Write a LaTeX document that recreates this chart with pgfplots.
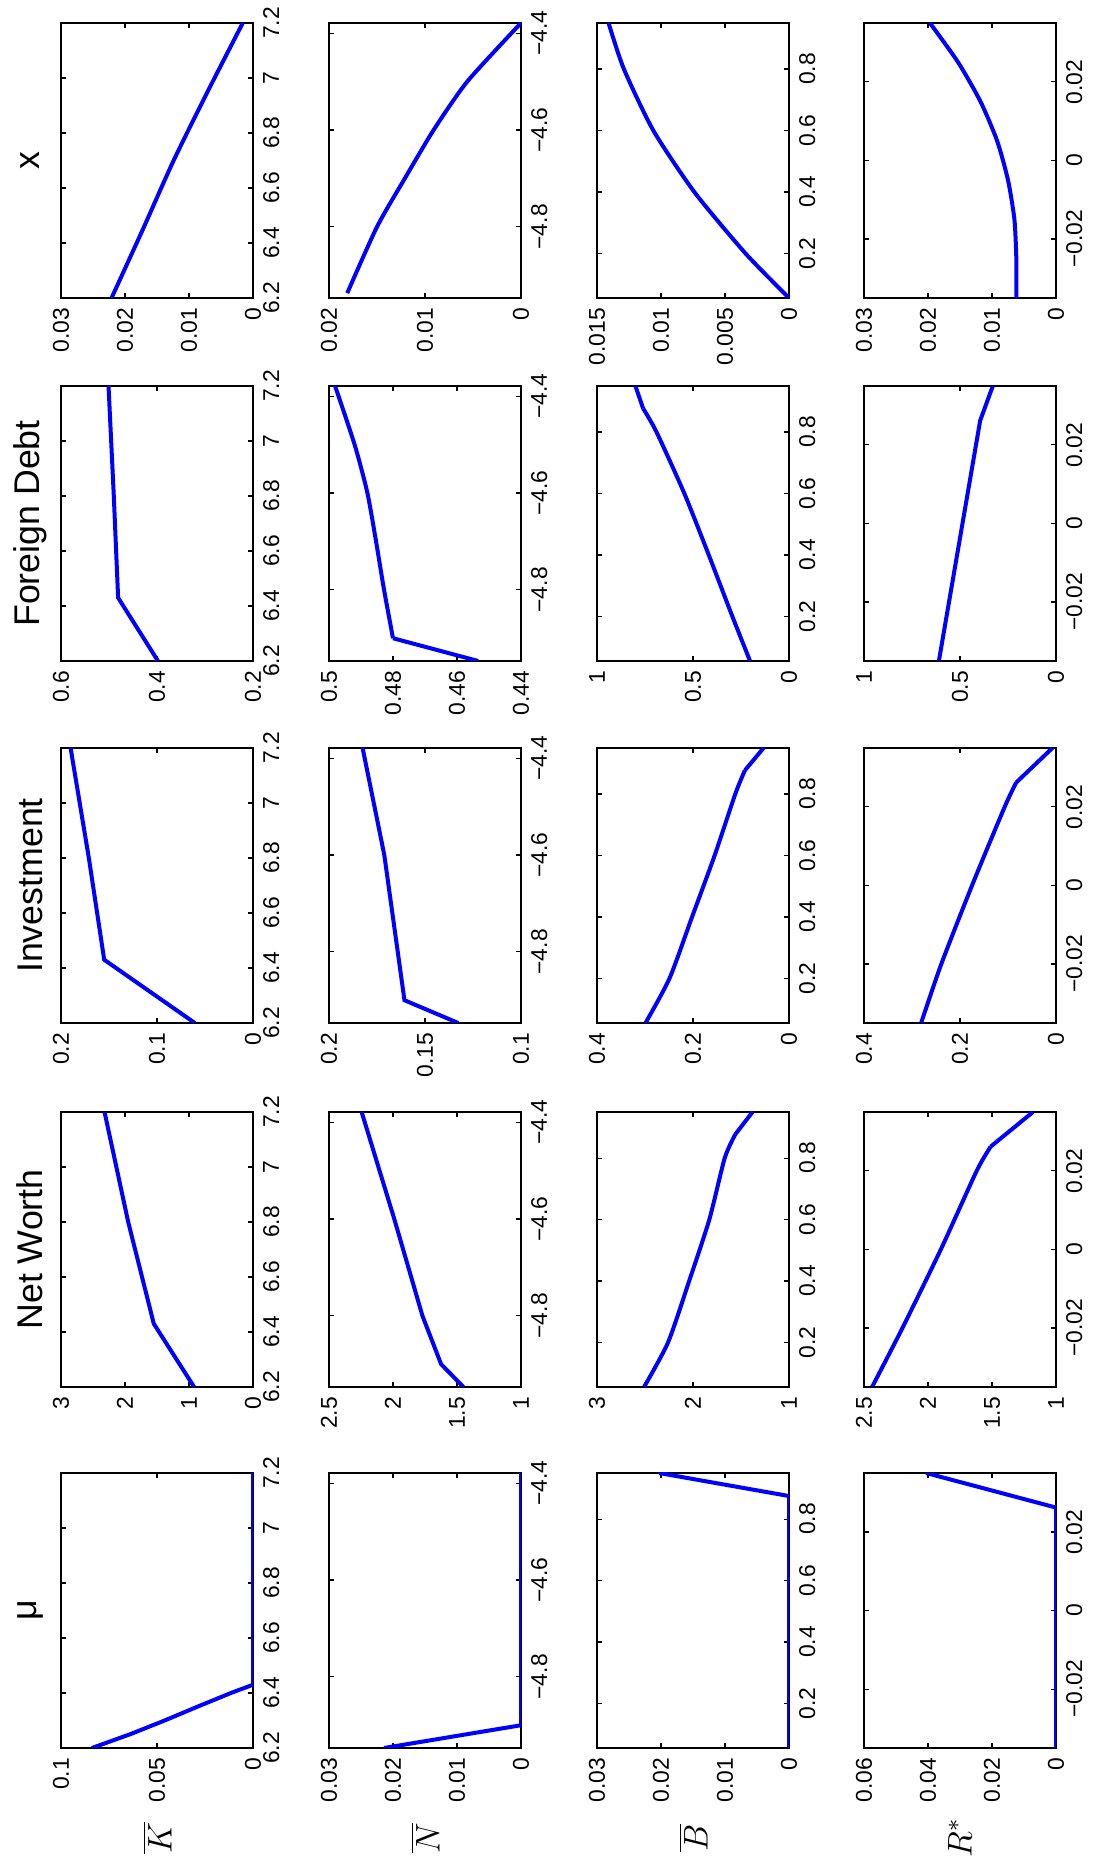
\documentclass[border=0pt]{standalone}
\usepackage{pgfplots}
\pgfplotsset{compat=1.18}
\usepackage{fontspec}
\setmainfont{Liberation Sans}
\pgfplotsset{
  pan/.style={scale only axis, width=96.25pt, height=67.2pt, anchor=north west,
    tick align=inside, major tick length=1.8pt, axis line style={line width=0.5pt},
    tick style={black, line width=0.4pt},
    ticklabel style={font=\fontsize{8}{9}\selectfont},
    scaled ticks=false, cycle list={{blue}},
    every axis plot/.append style={blue, line width=1.4pt, no markers, smooth, tension=0.4},
    xtick pos=both, ytick pos=both, xticklabel pos=lower, yticklabel pos=left},
  pos/.style 2 args={at={({#1*0.35pt},{-#2*0.35pt})}},
  rK/.style={xmin=6.2,xmax=7.2,xtick={6.2,6.4,6.6,6.8,7,7.2},xticklabels={6.2,6.4,6.6,6.8,7,7.2}},
  rN/.style={xmin=-4.947,xmax=-4.379,xtick={-4.8,-4.6,-4.4},xticklabels={−4.8,−4.6,−4.4}},
  rB/.style={xmin=0.055,xmax=0.95,xtick={0.2,0.4,0.6,0.8},xticklabels={0.2,0.4,0.6,0.8}},
  rR/.style={xmin=-0.035,xmax=0.035,xtick={-0.02,0,0.02},xticklabels={−0.02,0,0.02}},
  kinked/.style={sharp plot},
}
\begin{document}
\rotatebox{90}{%
\begin{tikzpicture}
\useasboundingbox (0,0) rectangle ({1865*0.35pt},{-1095*0.35pt});
\foreach \cx/\t in {117/μ,478/Net Worth,842/Investment,1204/Foreign Debt,1567/x}{
  \node[font=\fontsize{12.5}{14}\selectfont] at ({(\cx+137.5)*0.35pt},{-30*0.35pt}) {\t};}
\node[font=\fontsize{12}{14}\selectfont] at ({27*0.35pt},{-157*0.35pt}) {$\overline{K}$};
\node[font=\fontsize{12}{14}\selectfont] at ({27*0.35pt},{-425*0.35pt}) {$\overline{N}$};
\node[font=\fontsize{12}{14}\selectfont] at ({27*0.35pt},{-693*0.35pt}) {$\overline{B}$};
\node[font=\fontsize{12}{14}\selectfont] at ({27*0.35pt},{-960*0.35pt}) {$R^{*}$};

% ===== Row K =====
\begin{axis}[pan,rK,pos={117}{61},ymin=0,ymax=0.1,ytick={0,0.05,0.1},yticklabels={0,0.05,0.1}]
\addplot[kinked] coordinates {(6.2,0.0839)(6.25,0.0640)(6.3,0.0460)(6.35,0.0290)(6.4,0.0115)(6.43,0)(7.2,0)};
\end{axis}
\begin{axis}[pan,rK,pos={478}{61},ymin=0,ymax=3,ytick={0,1,2,3},yticklabels={0,1,2,3}]
\addplot[kinked] coordinates {(6.2,0.92)(6.43,1.55)(6.8,1.95)(7.2,2.32)};
\end{axis}
\begin{axis}[pan,rK,pos={842}{61},ymin=0,ymax=0.2,ytick={0,0.1,0.2},yticklabels={0,0.1,0.2}]
\addplot[kinked] coordinates {(6.2,0.0606)(6.43,0.155)(6.8,0.171)(7.2,0.190)};
\end{axis}
\begin{axis}[pan,rK,pos={1204}{61},ymin=0.2,ymax=0.6,ytick={0.2,0.4,0.6},yticklabels={0.2,0.4,0.6}]
\addplot[kinked] coordinates {(6.2,0.398)(6.43,0.481)(6.8,0.490)(7.2,0.501)};
\end{axis}
\begin{axis}[pan,rK,pos={1567}{61},ymin=0,ymax=0.03,ytick={0,0.01,0.02,0.03},yticklabels={0,0.01,0.02,0.03}]
\addplot coordinates {(6.2,0.0221)(6.45,0.0172)(6.7,0.0124)(6.95,0.0071)(7.2,0.0016)};
\end{axis}

% ===== Row N =====
\begin{axis}[pan,rN,pos={117}{329},ymin=0,ymax=0.03,ytick={0,0.01,0.02,0.03},yticklabels={0,0.01,0.02,0.03}]
\addplot[kinked] coordinates {(-4.947,0.0214)(-4.90,0)(-4.379,0)};
\end{axis}
\begin{axis}[pan,rN,pos={478}{329},ymin=1,ymax=2.5,ytick={1,1.5,2,2.5},yticklabels={1,1.5,2,2.5}]
\addplot[kinked] coordinates {(-4.947,1.45)(-4.90,1.624)(-4.8,1.77)(-4.6,1.99)(-4.379,2.245)};
\end{axis}
\begin{axis}[pan,rN,pos={842}{329},ymin=0.1,ymax=0.2,ytick={0.1,0.15,0.2},yticklabels={0.1,0.15,0.2}]
\addplot[kinked] coordinates {(-4.947,0.1327)(-4.90,0.1607)(-4.6,0.1712)(-4.379,0.1825)};
\end{axis}
\begin{axis}[pan,rN,pos={1204}{329},ymin=0.44,ymax=0.5,ytick={0.44,0.46,0.48,0.5},yticklabels={0.44,0.46,0.48,0.5}]
\addplot[kinked] coordinates {(-4.947,0.4534)(-4.90,0.480)};
\addplot coordinates {(-4.90,0.480)(-4.8,0.4828)(-4.7,0.4853)(-4.6,0.4880)(-4.5,0.4920)(-4.379,0.4981)};
\end{axis}
\begin{axis}[pan,rN,pos={1567}{329},ymin=0,ymax=0.02,ytick={0,0.01,0.02},yticklabels={0,0.01,0.02}]
\addplot coordinates {(-4.937,0.0181)(-4.8,0.0150)(-4.7,0.0121)(-4.6,0.0091)(-4.5,0.0056)(-4.379,0)};
\end{axis}

% ===== Row B =====
\begin{axis}[pan,rB,pos={117}{597},ymin=0,ymax=0.03,ytick={0,0.01,0.02,0.03},yticklabels={0,0.01,0.02,0.03}]
\addplot[kinked] coordinates {(0.055,0)(0.875,0)(0.95,0.0203)};
\end{axis}
\begin{axis}[pan,rB,pos={478}{597},ymin=1,ymax=3,ytick={1,2,3},yticklabels={1,2,3}]
\addplot coordinates {(0.055,2.51)(0.2,2.26)(0.4,2.04)(0.6,1.83)(0.8,1.67)(0.877,1.56)};
\addplot[kinked] coordinates {(0.877,1.56)(0.95,1.38)};
\end{axis}
\begin{axis}[pan,rB,pos={842}{597},ymin=0,ymax=0.4,ytick={0,0.2,0.4},yticklabels={0,0.2,0.4}]
\addplot coordinates {(0.055,0.299)(0.2,0.249)(0.4,0.202)(0.6,0.155)(0.8,0.112)(0.877,0.092)};
\addplot[kinked] coordinates {(0.877,0.092)(0.95,0.053)};
\end{axis}
\begin{axis}[pan,rB,pos={1204}{597},ymin=0,ymax=1,ytick={0,0.5,1},yticklabels={0,0.5,1}]
\addplot coordinates {(0.055,0.203)(0.2,0.295)(0.4,0.418)(0.6,0.545)(0.8,0.690)(0.877,0.760)};
\addplot[kinked] coordinates {(0.877,0.760)(0.95,0.80)};
\end{axis}
\begin{axis}[pan,rB,pos={1567}{597},ymin=0,ymax=0.015,ytick={0,0.005,0.01,0.015},yticklabels={0,0.005,0.01,0.015}]
\addplot coordinates {(0.055,0)(0.2,0.0034)(0.4,0.0074)(0.6,0.0106)(0.8,0.0129)(0.95,0.0141)};
\end{axis}

% ===== Row R* =====
\begin{axis}[pan,rR,pos={117}{864},ymin=0,ymax=0.06,ytick={0,0.02,0.04,0.06},yticklabels={0,0.02,0.04,0.06}]
\addplot[kinked] coordinates {(-0.035,0)(0.0262,0)(0.035,0.0406)};
\end{axis}
\begin{axis}[pan,rR,pos={478}{864},ymin=1,ymax=2.5,ytick={1,1.5,2,2.5},yticklabels={1,1.5,2,2.5}]
\addplot coordinates {(-0.035,2.437)(-0.02,2.20)(0,1.90)(0.02,1.62)(0.0262,1.51)};
\addplot[kinked] coordinates {(0.0262,1.51)(0.035,1.18)};
\end{axis}
\begin{axis}[pan,rR,pos={842}{864},ymin=0,ymax=0.4,ytick={0,0.2,0.4},yticklabels={0,0.2,0.4}]
\addplot coordinates {(-0.035,0.281)(-0.02,0.239)(0,0.175)(0.02,0.107)(0.0262,0.083)};
\addplot[kinked] coordinates {(0.0262,0.083)(0.035,0.0074)};
\end{axis}
\begin{axis}[pan,rR,pos={1204}{864},ymin=0,ymax=1,ytick={0,0.5,1},yticklabels={0,0.5,1}]
\addplot[kinked] coordinates {(-0.035,0.61)(0.0262,0.395)(0.035,0.329)};
\end{axis}
\begin{axis}[pan,rR,pos={1567}{864},ymin=0,ymax=0.03,ytick={0,0.01,0.02,0.03},yticklabels={0,0.01,0.02,0.03}]
\addplot coordinates {(-0.035,0.0062)(-0.025,0.0062)(-0.015,0.0065)(-0.005,0.0075)(0.005,0.0092)(0.015,0.0118)(0.025,0.0153)(0.035,0.0197)};
\end{axis}
\end{tikzpicture}}
\end{document}
